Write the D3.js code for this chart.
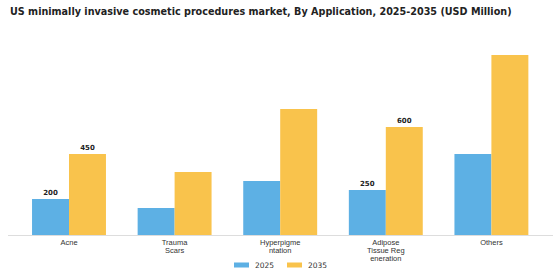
<!DOCTYPE html>
<html>
<head>
<meta charset="utf-8">
<script src="https://cdn.jsdelivr.net/npm/d3@7"></script>
<style>
  body { margin: 0; background: #fff; }
  svg { display: block; font-family: "DejaVu Sans", sans-serif; }
</style>
</head>
<body>
<svg id="chart" width="560" height="280"></svg>
<script>
const title = 'US minimally invasive cosmetic procedures market, By Application, 2025-2035 (USD Million)';
const categories = ['Acne', 'Trauma Scars', 'Hyperpigmentation', 'Adipose Tissue Regeneration', 'Others'];
const tickLabels = [['Acne'], ['Trauma', 'Scars'], ['Hyperpigme', 'ntation'], ['Adipose', 'Tissue Reg', 'eneration'], ['Others']];
const years = ['2025', '2035'];
const values2025 = [200, 150, 300, 250, 450];
const values2035 = [450, 350, 700, 600, 1000];
const labelled = ['Acne', 'Adipose Tissue Regeneration'];

const colors = { '2025': '#5DB0E4', '2035': '#F9C34C' };
const svg = d3.select('#chart');

// Title, squeezed to the reference width
const t = svg.append('text')
  .attr('x', 10)
  .attr('y', 15)
  .attr('font-size', 10)
  .attr('font-weight', 700)
  .attr('fill', '#222')
  .text(title);
const tw = t.node().getComputedTextLength();
t.attr('font-size', 10 * 502 / tw);

const x = d3.scaleBand()
  .domain(categories)
  .range([16.2, 544.2])
  .paddingInner(0.3)
  .paddingOuter(0.15);

const x1 = d3.scaleBand()
  .domain(years)
  .range([0, x.bandwidth()]);

const y = d3.scaleLinear()
  .domain([0, 1000])
  .range([235, 55]);

const rows = categories.map((c, i) => ({ cat: c, '2025': values2025[i], '2035': values2035[i] }));

// Bars
const groups = svg.append('g')
  .selectAll('g')
  .data(rows)
  .join('g')
  .attr('transform', d => `translate(${x(d.cat)},0)`);

groups.selectAll('rect')
  .data(d => years.map(k => ({ key: k, value: d[k], cat: d.cat })))
  .join('rect')
  .attr('x', d => x1(d.key))
  .attr('y', d => y(d.value))
  .attr('width', x1.bandwidth())
  .attr('height', d => y(0) - y(d.value))
  .attr('fill', d => colors[d.key]);

// Value labels
groups.selectAll('text')
  .data(d => labelled.includes(d.cat) ? years.map(k => ({ key: k, value: d[k] })) : [])
  .join('text')
  .attr('x', d => x1(d.key) + x1.bandwidth() / 2)
  .attr('y', d => y(d.value) - 4.5)
  .attr('text-anchor', 'middle')
  .attr('font-size', 7)
  .attr('font-weight', 700)
  .attr('fill', '#222')
  .text(d => d.value);

// Baseline
svg.append('line')
  .attr('x1', 8)
  .attr('x2', 553)
  .attr('y1', y(0) + 0.5)
  .attr('y2', y(0) + 0.5)
  .attr('stroke', '#ddd')
  .attr('stroke-width', 1);

// X axis labels
const xAxis = svg.append('g')
  .attr('transform', `translate(0,${y(0)})`)
  .call(d3.axisBottom(x).tickSize(0).tickFormat(''));
xAxis.select('.domain').remove();
xAxis.selectAll('.tick text').remove();
xAxis.selectAll('.tick')
  .append('text')
  .attr('text-anchor', 'middle')
  .attr('font-size', 7.5)
  .attr('fill', '#333')
  .selectAll('tspan')
  .data((d, i) => tickLabels[i])
  .join('tspan')
  .attr('x', 0)
  .attr('y', (d, i) => 10 + i * 8)
  .text(d => d);

// Legend
const legend = svg.append('g');
const legendX = [234, 287];
years.forEach((k, i) => {
  legend.append('rect')
    .attr('x', legendX[i])
    .attr('y', 262.5)
    .attr('width', 15)
    .attr('height', 5)
    .attr('fill', colors[k]);
  legend.append('text')
    .attr('x', legendX[i] + 21)
    .attr('y', 268)
    .attr('font-size', 7.5)
    .attr('fill', '#333')
    .text(k);
});
</script>
</body>
</html>
